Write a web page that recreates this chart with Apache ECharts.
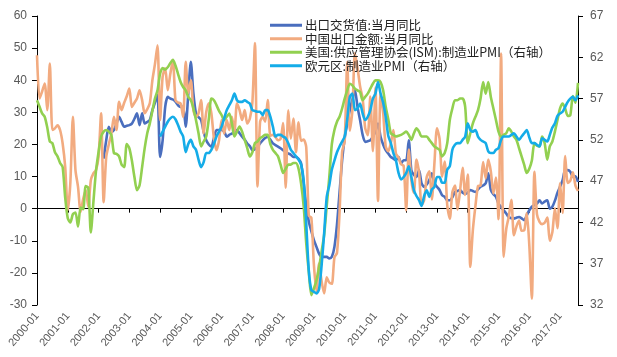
<!DOCTYPE html>
<html>
<head>
<meta charset="utf-8">
<script src="https://cdn.jsdelivr.net/npm/echarts@6.0.0/dist/echarts.min.js"></script>
<style>
html,body{margin:0;padding:0;background:#fff;}
#chart{width:617px;height:357px;}
</style>
</head>
<body>
<div id="chart"></div>
<script>
// categories: monthly 2000-01 .. 2017-08
const startYear = 2000, endYear = 2017, endMonth = 8;
const categories = [];
for (let y = startYear; y <= endYear; y++) {
  for (let m = 1; m <= 12; m++) {
    if (y === endYear && m > endMonth) break;
    categories.push(y + '-' + (m < 10 ? '0' + m : m));
  }
}

const seriesNames = [
  '出口交货值:当月同比',
  '中国出口金额:当月同比',
  '美国:供应管理协会(ISM):制造业PMI（右轴）',
  '欧元区:制造业PMI（右轴）'
];

// 出口交货值:当月同比 (left axis, starts 2002-03)
const exportDelivery = [
  null,null,null,null,null,null,null,null,null,null,null,null,
  null,null,null,null,null,null,null,null,null,null,null,null,
  null,null,15.6,21.3,25.5,24.0,24.5,26.5,28.6,27.0,25.5,25.8,
  26.0,26.5,28.0,29.7,26.0,29.7,26.5,27.0,27.6,30.7,33.0,35.4,
  16.1,21.3,31.7,34.8,34.3,34.0,33.3,32.2,31.7,31.7,25.5,35.9,
  45.7,35.9,29.7,28.5,27.6,24.0,21.3,20.0,19.3,22.0,24.5,24.5,
  24.5,24.0,22.4,23.0,23.4,24.0,24.5,23.5,22.4,21.5,20.3,19.5,
  18.2,18.5,19.3,20.3,21.3,22.0,22.4,21.5,20.3,19.8,19.3,18.8,
  18.2,17.6,17.2,16.8,16.1,16.1,15.5,14.1,8.0,1.0,-4.0,-7.0,
  -9.8,-11.9,-14.0,-15.0,-15.0,-15.0,-15.5,-15.0,-11.9,-5.0,5.0,15.0,
  22.0,26.5,30.7,34.0,36.9,31.7,27.6,23.0,20.8,21.0,21.3,22.4,
  24.0,26.5,22.4,20.0,18.2,17.2,16.1,15.6,15.1,16.1,14.1,15.1,
  15.1,21.3,12.0,10.5,9.9,12.0,7.9,6.8,7.5,8.9,11.0,7.9,
  6.8,5.8,4.2,3.7,2.6,2.6,3.5,5.2,5.5,5.8,5.0,4.7,
  5.0,5.8,5.5,5.2,6.0,6.8,7.2,7.9,11.0,5.8,4.5,3.7,
  1.6,0.5,-0.5,-1.5,-2.6,-3.0,-3.1,-2.8,-2.6,-3.0,-3.6,-2.1,
  -0.5,0.6,1.2,1.6,2.6,1.6,2.2,2.6,0.0,0.6,2.5,5.0,
  6.8,8.9,12.0,12.0,11.5,9.9,10.1,8.3
];

// 中国出口金额:当月同比 (left axis)
const chinaExport = [
  47.8,34.3,36.5,39.0,30.7,45.2,24.5,25.0,26.0,24.5,20.3,13.0,
  -0.5,8.0,28.6,12.0,6.8,-1.0,3.0,5.8,0.6,8.9,11.0,12.0,
  16.1,29.7,2.0,16.1,20.0,23.4,28.6,24.5,33.3,30.7,33.0,35.0,
  37.4,31.7,33.0,34.3,36.9,33.8,29.7,31.0,32.8,40.0,45.0,50.9,
  27.6,41.1,43.7,36.9,42.0,46.3,33.8,33.0,32.8,28.6,45.7,35.9,
  40.0,30.6,28.6,29.7,33.8,23.4,30.0,32.8,29.7,22.0,18.2,21.3,
  27.6,23.4,27.6,24.5,28.6,24.0,32.8,30.7,27.6,30.7,26.5,28.0,
  33.0,51.6,6.9,27.0,28.6,27.1,33.8,22.7,23.0,22.3,21.3,21.7,
  26.7,6.5,30.6,21.8,28.1,17.6,26.9,21.1,21.5,19.2,-2.2,-2.8,
  -17.5,-25.7,-17.1,-22.6,-26.4,-21.4,-23.0,-23.4,-15.2,-13.8,-1.2,17.7,
  21.0,45.7,24.3,30.5,48.5,43.9,38.1,34.4,25.1,22.9,34.9,17.9,
  37.7,2.4,35.8,29.9,19.4,17.9,20.4,24.5,17.1,15.9,13.8,13.4,
  -0.5,18.4,8.9,4.9,15.3,11.3,1.0,2.7,9.9,11.6,2.9,14.1,
  25.0,21.8,10.0,14.7,1.0,-3.1,5.1,7.2,-0.3,5.6,12.7,4.3,
  10.6,-18.1,-6.6,0.9,7.0,7.2,14.5,9.4,15.3,11.6,4.7,9.7,
  -3.3,48.3,-15.0,-6.4,-2.5,2.8,-8.3,-5.5,-3.7,-6.9,-6.8,-1.4,
  -11.2,-28.0,11.5,-1.8,-4.1,-4.8,-4.4,-2.8,-10.0,-7.3,0.1,-6.1,
  7.9,-1.3,16.4,8.0,8.7,11.3,7.2,5.5
];

// 美国 ISM 制造业PMI (right axis)
const usISM = [
  56.8,56.0,55.2,54.8,53.5,51.8,51.6,50.5,50.0,49.2,48.7,45.0,
  42.5,42.0,43.0,43.2,41.5,43.8,43.6,46.4,46.2,40.8,44.5,48.2,
  50.5,52.4,53.0,53.2,53.0,52.6,50.4,50.3,50.0,49.0,48.7,51.5,
  51.0,49.5,47.5,45.9,46.5,48.7,51.0,52.8,54.0,55.5,57.0,58.0,
  60.0,60.7,60.5,60.8,61.3,61.7,61.0,60.0,59.0,58.4,58.0,57.2,
  56.8,55.8,54.4,52.8,51.2,51.8,52.4,54.5,57.0,56.8,56.2,55.5,
  55.0,54.4,54.8,55.2,54.0,52.4,53.0,53.6,53.0,52.0,51.0,50.0,
  50.5,51.6,51.8,52.2,52.4,52.6,52.6,51.5,50.8,50.4,50.0,49.0,
  48.0,48.5,49.0,49.0,49.2,49.2,48.5,46.7,44.0,39.5,36.0,33.2,
  34.0,35.0,36.5,38.5,40.5,44.0,47.5,51.5,53.2,54.2,54.8,55.8,
  57.0,58.0,58.8,58.6,58.2,58.0,57.8,56.8,57.2,57.6,58.2,58.8,
  59.2,59.2,59.0,58.0,56.0,54.5,52.8,52.6,52.4,52.5,52.6,52.8,
  53.0,52.6,52.0,52.8,53.4,53.0,52.4,52.4,52.4,52.0,51.6,51.2,
  51.0,50.8,50.0,50.4,51.6,54.4,55.8,56.8,56.8,57.0,57.0,56.0,
  51.6,52.8,54.0,54.8,55.6,57.0,59.0,57.6,59.0,57.2,55.8,54.4,
  53.0,52.4,52.6,52.8,53.4,53.0,52.4,52.0,51.0,50.0,49.0,48.0,
  48.5,49.5,51.6,51.3,51.2,52.4,51.6,49.6,51.2,51.8,53.0,54.4,
  55.8,56.4,55.8,54.9,55.0,57.3,56.5,58.9
];

// 欧元区 制造业PMI (right axis, starts 2004-01)
const euroPMI = [
  null,null,null,null,null,null,null,null,null,null,null,null,
  null,null,null,null,null,null,null,null,null,null,null,null,
  null,null,null,null,null,null,null,null,null,null,null,null,
  null,null,null,null,null,null,null,null,null,null,null,null,
  52.4,53.0,53.6,54.2,54.6,54.8,54.5,53.8,53.0,52.4,50.5,51.5,
  52.0,51.2,50.8,49.6,48.7,49.3,50.4,50.4,50.8,51.5,52.4,53.0,
  53.6,54.6,55.6,56.2,56.8,57.6,56.8,56.6,56.6,56.8,56.6,56.4,
  55.6,55.5,55.4,55.4,55.0,55.6,55.6,54.8,53.6,52.4,52.6,52.6,
  52.4,52.2,51.6,50.8,50.4,50.0,49.6,49.0,47.1,41.9,36.2,33.8,
  33.6,33.4,33.9,36.8,40.7,45.1,46.5,48.4,49.5,50.5,51.2,51.8,
  52.4,54.5,57.2,57.6,55.6,55.8,56.4,55.2,54.4,54.8,55.6,57.0,
  57.6,59.0,57.6,56.5,54.8,52.5,51.6,50.4,49.5,48.0,47.2,47.5,
  48.0,48.8,47.5,45.9,45.2,44.7,44.0,45.2,45.9,45.1,46.0,46.3,
  47.5,47.5,46.8,46.8,48.4,48.8,50.8,51.4,51.6,51.6,52.0,52.4,
  54.0,53.2,53.0,53.2,52.4,52.0,51.8,51.6,50.6,50.4,50.4,50.8,
  51.0,52.0,52.4,52.4,52.4,52.6,52.8,52.4,52.0,52.4,52.8,53.2,
  52.3,51.6,51.6,51.4,51.2,52.2,52.0,51.8,52.6,53.5,54.0,54.9,
  55.2,55.4,56.0,56.6,57.0,57.2,56.8,57.4
];

const colors = ['#4A6EBE', '#F2AB80', '#92D050', '#14ACE8'];
const labelColor = '#595959';
const fontFam = '"Liberation Sans", Arial, sans-serif';

const chart = echarts.init(document.getElementById('chart'), null, {renderer: 'canvas'});

function mk(name, data, yIdx, color) {
  return {
    name: name, type: 'line', data: data, xAxisIndex: 0, yAxisIndex: yIdx,
    showSymbol: false, smooth: 0.25, connectNulls: false,
    lineStyle: {color: color, width: 2.6}, itemStyle: {color: color},
    emphasis: {disabled: true}
  };
}

chart.setOption({
  animation: false,
  backgroundColor: '#ffffff',
  grid: {left: 37, right: 39, top: 16, bottom: 52, containLabel: false},
  legend: {
    orient: 'vertical', left: 270, top: 19, padding: 0, itemGap: 1,
    icon: 'rect', itemWidth: 32, itemHeight: 3,
    textStyle: {fontSize: 12.5, color: '#222', fontFamily: '"Noto Sans CJK SC", sans-serif', padding: [0, 0, 0, -2]},
    data: seriesNames
  },
  xAxis: [
    {
      type: 'category', data: categories, boundaryGap: false, position: 'bottom',
      axisLine: {show: true, onZero: true, onZeroAxisIndex: 0, lineStyle: {color: '#000', width: 1}},
      axisTick: {show: true, interval: 11, length: 4, lineStyle: {color: '#000'}},
      axisLabel: {show: false},
      splitLine: {show: false}
    },
    {
      type: 'category', data: categories, boundaryGap: false, position: 'bottom',
      axisLine: {show: false, onZero: false},
      axisTick: {show: false},
      axisLabel: {show: true, interval: 11, rotate: 50, margin: 9, fontSize: 11, color: labelColor, fontFamily: fontFam},
      splitLine: {show: false}
    }
  ],
  yAxis: [
    {
      type: 'value', min: -30, max: 60, interval: 10, position: 'left',
      axisLine: {show: true, lineStyle: {color: '#000', width: 1}},
      axisTick: {show: true, length: 5, lineStyle: {color: '#000'}},
      axisLabel: {fontSize: 12, color: labelColor, margin: 10, fontFamily: fontFam},
      splitLine: {show: false}
    },
    {
      type: 'value', min: 32, max: 67, interval: 5, position: 'right',
      axisLine: {show: true, lineStyle: {color: '#000', width: 1}},
      axisTick: {show: true, length: 5, lineStyle: {color: '#000'}},
      axisLabel: {fontSize: 12, color: labelColor, margin: 12, fontFamily: fontFam},
      splitLine: {show: false}
    }
  ],
  series: [
    mk(seriesNames[0], exportDelivery, 0, colors[0]),
    mk(seriesNames[1], chinaExport, 0, colors[1]),
    mk(seriesNames[2], usISM, 1, colors[2]),
    mk(seriesNames[3], euroPMI, 1, colors[3])
  ]
});
</script>
</body>
</html>
